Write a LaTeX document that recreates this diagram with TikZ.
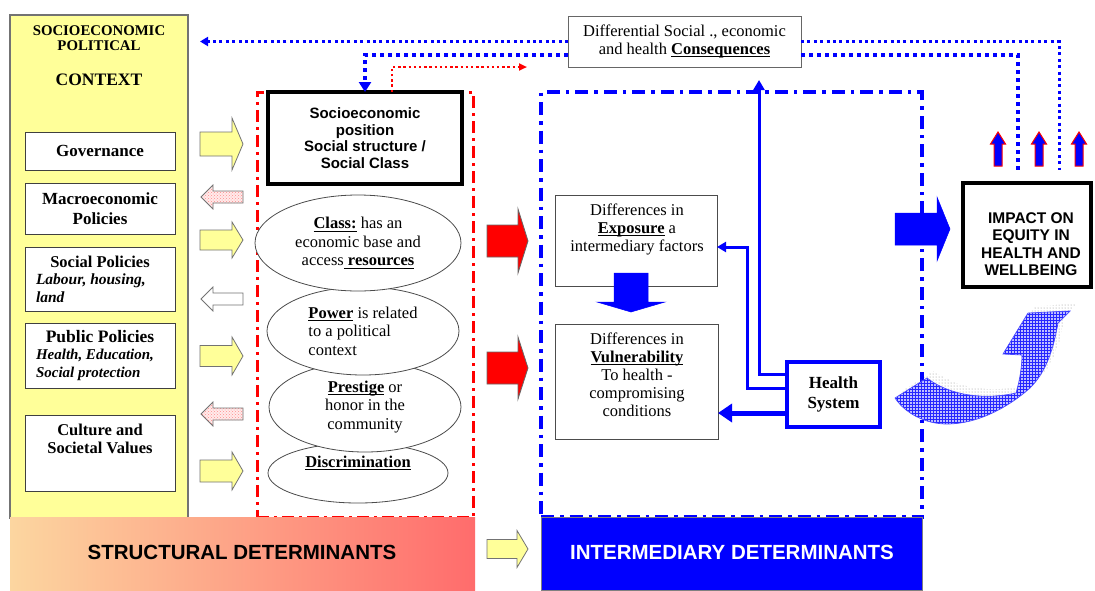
\documentclass[tikz,border=0pt]{standalone}
\usepackage{fontspec}
\setmainfont{Liberation Serif}
\setsansfont{Liberation Sans}
\usetikzlibrary{arrows.meta,patterns,calc,shapes.geometric}
\newcommand{\setfs}[2]{\fontsize{#1}{#2}\selectfont}
\newcommand{\ulx}[1]{\setbox0\hbox{#1}\rlap{\rule[-2.6pt]{\wd0}{0.9pt}}\box0\relax}
% horizontal block arrow: style, tail x, centre y, head-base x, tip x, body half, head half
\newcommand{\hArrow}[7]{\draw[#1] (#2,{#3-#6}) -- (#4,{#3-#6}) -- (#4,{#3-#7}) -- (#5,#3) -- (#4,{#3+#7}) -- (#4,{#3+#6}) -- (#2,{#3+#6}) -- cycle;}
% vertical block arrow: style, centre x, tail y, head-base y, tip y, body half, head half
\newcommand{\vArrow}[7]{\draw[#1] ({#2-#6},#3) -- ({#2-#6},#4) -- ({#2-#7},#4) -- (#2,#5) -- ({#2+#7},#4) -- ({#2+#6},#4) -- ({#2+#6},#3) -- cycle;}
\definecolor{ctxyellow}{RGB}{255,255,153}
\definecolor{hblue}{RGB}{0,0,255}
\definecolor{sdred}{RGB}{255,0,0}
\definecolor{bandL}{RGB}{252,214,160}
\definecolor{bandR}{RGB}{255,108,108}
\tikzset{
  every node/.style={inner sep=0pt, outer sep=0pt},
  ctxbg/.style={draw=black!55, line width=1.2pt, fill=ctxyellow, anchor=north west},
  pbox/.style={draw=black!75, line width=1pt, fill=white, minimum width=150pt, align=center, font=\bfseries\setfs{17}{19.5}},
  sebox/.style={draw=black, line width=3.5pt, fill=white, anchor=north west, align=center, font=\sffamily\bfseries\setfs{15}{16.6}},
  ell/.style={ellipse, draw=black!70, line width=0.8pt, fill=white, align=center, font=\setfs{16.5}{18.5}},
  redbox/.style={draw=sdred, line width=3pt, dash pattern=on 12pt off 5pt on 3pt off 5pt, anchor=north west},
  bluebox/.style={draw=hblue, line width=3.5pt, dash pattern=on 13pt off 6pt on 3.5pt off 6pt, anchor=north west},
  ibox/.style={draw=black!70, line width=1pt, fill=white, anchor=north west},
  itext/.style={align=center, font=\setfs{16.5}{18}},
  hsbox/.style={draw=hblue, line width=3.5pt, fill=white, anchor=north west, align=center, font=\bfseries\setfs{17}{20}},
  consbox/.style={draw=black!60, line width=1pt, fill=white, anchor=north west, align=center, font=\setfs{16.5}{18}},
  impbox/.style={draw=black, line width=4.5pt, fill=white, anchor=north west},
  bandtext/.style={font=\sffamily\bfseries\setfs{20.5}{22}},
  yarr/.style={fill=ctxyellow, draw=black!55, line width=0.8pt},
  larrP/.style={preaction={fill=red!8}, pattern=crosshatch dots, pattern color=red!45, draw=black!55, line width=0.8pt},
  larrW/.style={fill=white, draw=black!55, line width=0.8pt},
  rarr/.style={fill=sdred, draw=black!60, line width=0.8pt},
  blkblue/.style={fill=hblue, draw=hblue, line width=0.5pt},
  uparr/.style={fill=hblue, draw=sdred, line width=1pt},
  dotthin/.style={draw=hblue, line width=3pt, dash pattern=on 3pt off 3.4pt},
  dotthick/.style={draw=hblue, line width=4pt, dash pattern=on 4pt off 4pt},
  reddot/.style={draw=sdred, line width=2.4pt, dash pattern=on 2.4pt off 2.8pt},
  hsline/.style={draw=hblue, line width=3pt},
}
\begin{document}
\begin{tikzpicture}[x=1pt,y=-1pt]
\useasboundingbox (0,0) rectangle (1095,590);
\fill[white] (0,0) rectangle (1095,590);

% ---------------- context column
\node[ctxbg, minimum width=178pt, minimum height=503pt] (ctx) at (10,15) {};
\node[align=center, font=\bfseries\setfs{14.8}{14.5}] (ctxT) at (99,38) {SOCIOECONOMIC\\POLITICAL};
\node[font=\bfseries\setfs{17.5}{20}] (ctxC) at (99,80) {CONTEXT};

\node[pbox, minimum height=38pt] (gov) at (100,151) {Governance};
\node[pbox, minimum height=51pt] (mac) at (100,208.5) {Macroeconomic\\Policies};
\node[pbox, minimum height=64pt, font=\bfseries\itshape\setfs{15.5}{17.5}] (soc) at (100,279)
  {{\upshape\setfs{16.5}{17.5}Social Policies}\\\makebox[128pt][l]{Labour, housing,}\\\makebox[128pt][l]{land}};
\node[pbox, minimum height=65pt, font=\bfseries\itshape\setfs{15}{17.5}] (pub) at (100,355.5)
  {{\upshape\setfs{17.5}{17.5}Public Policies}\\\makebox[128pt][l]{Health, Education,}\\\makebox[128pt][l]{Social protection}};
\node[pbox, minimum height=76pt] (cul) at (100,453) {};
\node[align=center, font=\bfseries\setfs{16.5}{17.5}] (culT) at (100,439) {Culture and\\Societal Values};

% ---------------- small arrows between context and structural box
\hArrow{yarr}{200}{144}{232}{243}{12}{26}
\hArrow{larrP}{243}{197}{213}{201}{6}{12}
\hArrow{yarr}{200}{240}{232}{243}{10}{18}
\hArrow{larrW}{243}{299}{213}{201}{6}{12}
\hArrow{yarr}{200}{356}{232}{243}{10.5}{19}
\hArrow{larrP}{243}{414}{213}{201}{6}{12}
\hArrow{yarr}{200}{471}{232}{243}{11}{19}

% ---------------- structural determinants box
\node[redbox, minimum width=216pt, minimum height=425pt] (sd) at (257,92) {};
\node[sebox, minimum width=194pt, minimum height=92pt] (seb) at (268,92) {Socioeconomic\\position\\Social structure /\\Social Class};

\node[ell, minimum width=180pt, minimum height=60pt] (disc) at (358,473) {};
\node[ell, minimum width=192pt, minimum height=90pt] (prest) at (365,407) {\ulx{\textbf{Prestige}} or\\honor in the\\community};
\node[ell, minimum width=192pt, minimum height=88pt, align=left] (pow) at (363,331) {\ulx{\textbf{Power}} is related\\to a political\\context};
\node[ell, minimum width=206pt, minimum height=96pt] (cls) at (358,243) {\ulx{\textbf{Class:}} has an\\economic base and\\access\ulx{ \textbf{resources}}};
\node[font=\setfs{16.5}{18}] (discT) at (358,463) {\ulx{\textbf{Discrimination}}};

% red arrows
\hArrow{rarr}{487}{241}{518}{528}{16}{32}
\hArrow{rarr}{487}{368}{518}{528}{16}{31}

% ---------------- intermediary box
\node[bluebox, minimum width=381pt, minimum height=425pt] (idb) at (541,92) {};
\node[ibox, minimum width=162pt, minimum height=91pt] (exp) at (555,195) {};
\node[itext] (expT) at (637,229.5) {Differences in\\\ulx{\textbf{Exposure}} a\\intermediary factors};
\vArrow{blkblue}{631}{273}{302}{312}{17}{34}
\node[ibox, minimum width=163pt, minimum height=115pt] (vul) at (555,324) {};
\node[itext] (vulT) at (637,375) {Differences in\\\ulx{\textbf{Vulnerability}}\\To health -\\compromising\\conditions};
\node[hsbox, minimum width=93pt, minimum height=65pt] (hs) at (787,362) {Health\\System};

% consequences
\node[consbox, minimum width=233pt, minimum height=51pt] (cons) at (568,16) {Differential Social ., economic\\and health \ulx{\textbf{Consequences}}};

% health system connectors
\draw[hsline, -{Triangle[length=10pt,width=11pt]}] ([yshift=-12pt]hs.north west) -| ([xshift=74.5pt,yshift=-13pt]cons.south);
\draw[hsline, -{Triangle[length=9pt,width=10pt]}] ([yshift=-26pt]hs.north west) -- ++(-40,0) |- ([yshift=-6.5pt]exp.east);
\draw[hblue, line width=5pt, -{Triangle[length=14pt,width=18pt]}] ([yshift=-51pt]hs.north west) -- ([yshift=-31.5pt]vul.east);

% feedback dotted lines
\coordinate (dotA) at (1059,170);
\coordinate (dotB) at (1018,170);
\coordinate (redTip) at (527,67);
\draw[dotthin, -{Triangle[length=8pt,width=9pt]}] (cons.west) -- ($(ctx.east |- cons.west)+(12,0)$);
\draw[dotthin] (cons.east) -| (dotA);
\draw[dotthick, -{Triangle[length=10pt,width=12pt]}] ([yshift=-13.5pt]cons.west) -| (seb.north);
\draw[dotthick] ([yshift=-13.5pt]cons.east) -| (dotB);
\draw[reddot, -{Triangle[length=8pt,width=7pt]}] ([xshift=27pt]seb.north) |- (redTip);

% ---------------- impact
\hArrow{blkblue}{895}{229}{937}{950}{16}{32}
\node[impbox, minimum width=128pt, minimum height=104pt] (imp) at (963,183) {};
\node[align=center, font=\sffamily\bfseries\setfs{15.5}{17.5}] (impT) at (1031,244) {IMPACT ON\\EQUITY IN\\HEALTH AND\\WELLBEING};
\vArrow{uparr}{998}{166}{144}{132}{4}{7.5}
\vArrow{uparr}{1039}{166}{144}{132}{4}{7.5}
\vArrow{uparr}{1079}{166}{144}{132}{4}{7.5}

% curved feedback arrow (shadow, then arrow)
\path[pattern=dots, pattern color=black!45, shift={(7,-7)}]
  (895,398) -- (927,378) .. controls (950,396) and (985,400) .. (1016,393)
  .. controls (1020,380) and (1022,365) .. (1022,355) -- (1003,354) -- (1028,313) -- (1070,311)
  -- (1058,323) .. controls (1054,345) and (1048,370) .. (1030,388)
  .. controls (1005,410) and (975,424) .. (947,424) .. controls (925,424) and (905,413) .. cycle;
\draw[preaction={fill=blue!25}, pattern=grid, pattern color=blue!85, draw=blue!70, line width=0.7pt]
  (895,398) -- (927,378) .. controls (950,396) and (985,400) .. (1016,393)
  .. controls (1020,380) and (1022,365) .. (1022,355) -- (1003,354) -- (1028,313) -- (1070,311)
  -- (1058,323) .. controls (1054,345) and (1048,370) .. (1030,388)
  .. controls (1005,410) and (975,424) .. (947,424) .. controls (925,424) and (905,413) .. cycle;

% ---------------- bottom bands
\node[anchor=north west, minimum width=465pt, minimum height=73pt, left color=bandL, right color=bandR] (sdband) at (10,517) {};
\node[bandtext] (sdT) at (242,552) {STRUCTURAL DETERMINANTS};
\hArrow{yarr}{487}{549}{517}{528}{9.5}{18.5}
\node[anchor=north west, minimum width=381pt, minimum height=73pt, fill=hblue, draw=black!50, line width=0.8pt] (idband) at (541,517) {};
\node[bandtext, text=white] (idT) at (732,552) {INTERMEDIARY DETERMINANTS};
\end{tikzpicture}
\end{document}
